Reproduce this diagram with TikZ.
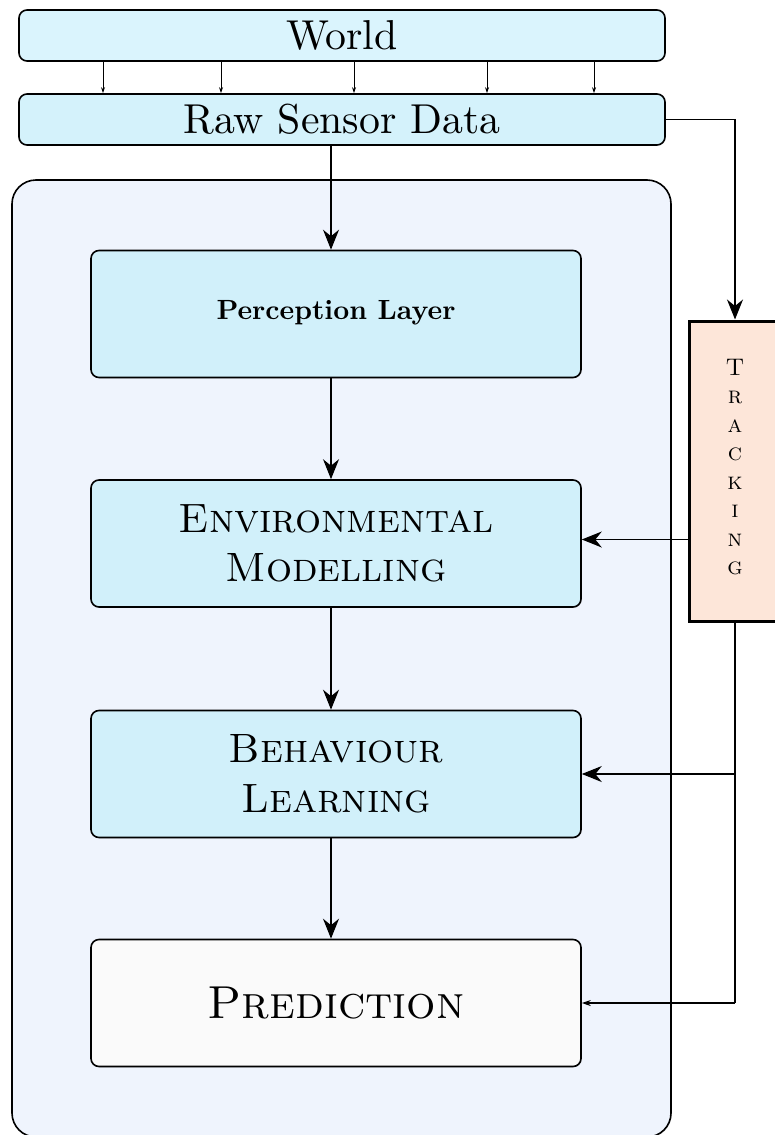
\documentclass[tikz,border=0pt]{standalone}
\usepackage{fontspec}
\setmainfont{lmroman10-regular.otf}[BoldFont=lmroman10-bold.otf,SmallCapsFont=lmromancaps10-regular.otf]
\usetikzlibrary{arrows.meta,shadows}

\definecolor{worldfill}{HTML}{DAF4FD}
\definecolor{rawfill}{HTML}{D4F2FB}
\definecolor{layerfill}{HTML}{D1F0FA}
\definecolor{framefill}{HTML}{EFF4FD}
\definecolor{predfill}{HTML}{FAFAFA}
\definecolor{trackfill}{HTML}{FDE6D9}

\tikzset{
  layer/.style={rectangle,draw,thick,rounded corners=4pt,fill=layerfill,
    minimum width=245pt,minimum height=63.5pt,align=center,
    drop shadow={shadow xshift=0.4pt,shadow yshift=-0.4pt,opacity=0.3}},
  bar/.style={rectangle,draw,thick,rounded corners=4pt,
    minimum width=323pt,minimum height=25.5pt,font=\fontsize{20.9}{25}\selectfont},
  bigtip/.style={-{Stealth[length=10pt,width=8pt]},semithick},
  smalltip/.style={-{Stealth[length=3pt,width=2pt]},thin},
  midtip/.style={-{Stealth[length=4.5pt,width=3pt]},semithick},
}

\begin{document}
\begin{tikzpicture}[x=0.5pt,y=-0.5pt]
        \useasboundingbox (0,0) rectangle (775,1135);
        % outer frame
        \node [rectangle,draw,thick,rounded corners=12pt,fill=framefill,
          minimum width=329.5pt,minimum height=478.5pt,
          drop shadow={shadow xshift=0.4pt,shadow yshift=-0.4pt,opacity=0.35}] (frame) at (341.5,658.5) {};
        \node [bar,fill=worldfill] (world) at (342,35.5) {World};
        \node [bar,fill=rawfill] (raw) at (342,119.5) {Raw Sensor Data};
        \node [layer,font=\fontsize{13.9}{17}\bfseries] (percep) at (336,314) {\raisebox{4.5pt}{Perception Layer}};
        \node [layer,font=\fontsize{20.5}{24.75}\selectfont\scshape] (env) at (336,543.5) {Environmental\\Modelling};
        \node [layer,font=\fontsize{20.5}{24.75}\selectfont\scshape] (behav) at (336,774) {Behaviour\\Learning};
        \node [layer,fill=predfill,font=\fontsize{23.1}{28}\selectfont\scshape] (pred) at (336,1003) {Prediction};
        \node [rectangle,draw,line width=1.5pt,fill=trackfill,minimum width=46pt,minimum height=150pt,
          align=center,font=\fontsize{12}{14.25}\selectfont\scshape] (track) at (735,471)
          {\raisebox{4pt}{T}\\\raisebox{4pt}{r}\\\raisebox{4pt}{a}\\\raisebox{4pt}{c}\\\raisebox{4pt}{k}\\\raisebox{4pt}{i}\\\raisebox{4pt}{n}\\\raisebox{4pt}{g}};
        \foreach \x in {103,221,354,487,594}
          \draw[smalltip] (\x,0 |- world.south) -- (\x,0 |- raw.north);
        \draw[bigtip] ([xshift=-2.5pt]raw.south -| percep.north) -- ([xshift=-2.5pt]percep.north);
        \draw[bigtip] ([xshift=-2.5pt]percep.south) -- ([xshift=-2.5pt]env.north);
        \draw[bigtip] ([xshift=-2.5pt]env.south) -- ([xshift=-2.5pt]behav.north);
        \draw[bigtip] ([xshift=-2.5pt]behav.south) -- ([xshift=-2.5pt]pred.north);
        \draw[bigtip] (raw.east) -| (track.north);
        \draw[bigtip] ([yshift=2pt]env.east -| track.west) -- ([yshift=2pt]env.east);
        \draw[semithick] (track.south) -- (track.south |- pred.east);
        \draw[bigtip] (track.south |- behav.east) -- (behav.east);
        \draw[midtip] (track.south |- pred.east) -- (pred.east);
\end{tikzpicture}
\end{document}
